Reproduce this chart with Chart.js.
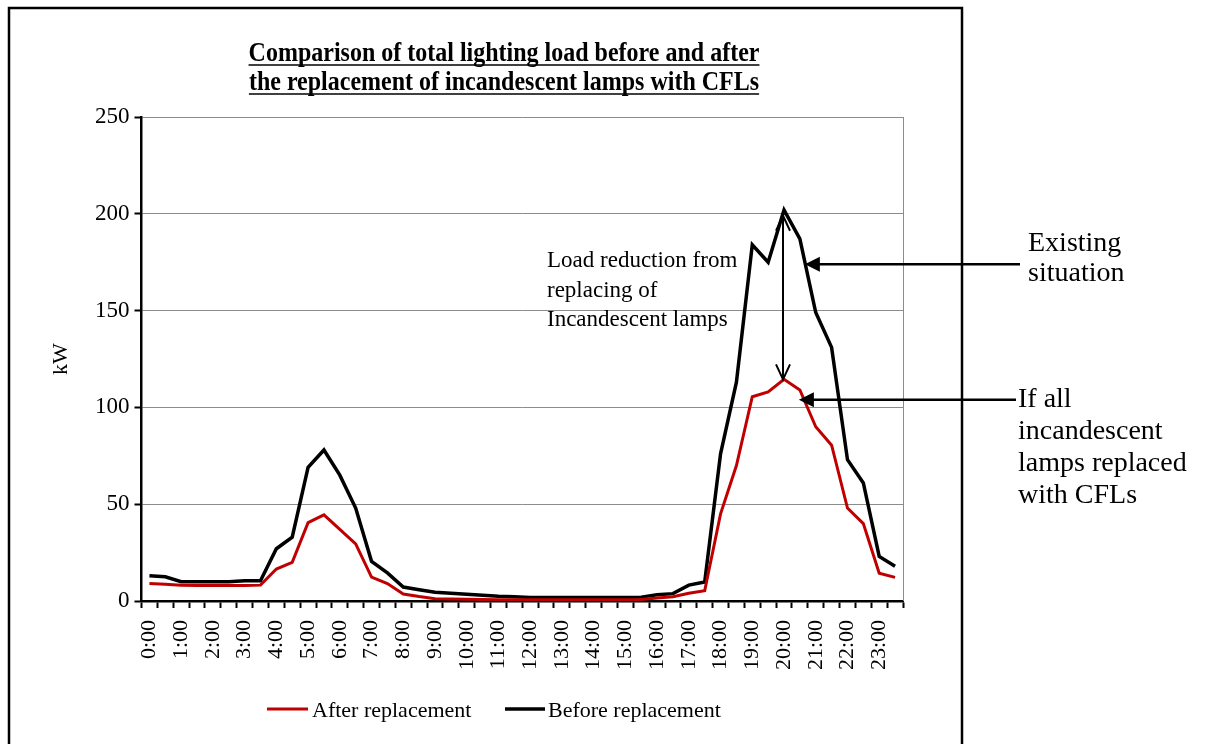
<!DOCTYPE html>
<html>
<head>
<meta charset="utf-8">
<title>Lighting load before and after CFL replacement</title>
<script src="https://cdn.jsdelivr.net/npm/chart.js@4/dist/chart.umd.min.js"></script>
<style>
  html, body { margin: 0; padding: 0; background: #fff; }
  #wrap { width: 1210px; height: 744px; }
</style>
</head>
<body>
<div id="wrap"><canvas id="loadChart" width="1210" height="744"></canvas></div>
<script>
'use strict';

// half-hourly time slots, only full hours get a label
const TIMES = [];
for (let h = 0; h < 24; h++) { TIMES.push(h + ':00', h + ':30'); }

// kW
const BEFORE = [
  13, 12.5, 10, 10, 10, 10, 10.5, 10.5, 27, 33, 69, 78,
  65, 48, 20.5, 14.5, 7.2, 5.8, 4.5, 4, 3.5, 3, 2.5, 2.2,
  1.8, 1.8, 1.8, 1.8, 1.8, 1.8, 1.8, 2, 3.2, 3.8, 8.2, 9.8,
  76, 113, 184, 175, 202, 187, 149, 131, 73, 61, 23, 18
];
const AFTER = [
  9, 8.6, 8.1, 8, 8, 8, 8, 8.2, 16.5, 20, 40.5, 44.5,
  37, 29.5, 12.3, 9, 3.6, 2.3, 1.2, 1, 0.9, 0.8, 0.7, 0.7,
  0.7, 0.7, 0.7, 0.7, 0.7, 0.7, 0.7, 0.8, 1.5, 2.2, 4, 5.3,
  45, 70, 105.5, 108, 114.5, 109, 90, 80.5, 48, 40, 14.3, 12.2
];
const Y_TICKS = [0, 50, 100, 150, 200, 250];

const TITLE_LINES = [
  'Comparison of total lighting load before and after',
  'the replacement of incandescent lamps with CFLs'
];
const NOTE_MID = ['Load reduction from', 'replacing of', 'Incandescent lamps'];
const NOTE_TOP = ['Existing', 'situation'];
const NOTE_LOW = ['If all', 'incandescent', 'lamps replaced', 'with CFLs'];

const SERIF = "'Liberation Serif', 'Times New Roman', serif";
Chart.defaults.font.family = SERIF;
Chart.defaults.color = '#000';

function arrowFilled(ctx, x1, y, x2) {
  ctx.beginPath();
  ctx.moveTo(x1, y);
  ctx.lineTo(x2 + 14, y);
  ctx.stroke();
  ctx.beginPath();
  ctx.moveTo(x2, y);
  ctx.lineTo(x2 + 15, y - 7.5);
  ctx.lineTo(x2 + 15, y + 7.5);
  ctx.closePath();
  ctx.fill();
}

function openHead(ctx, x, y, dir) {
  ctx.beginPath();
  ctx.moveTo(x - 7, y + dir * 15);
  ctx.lineTo(x, y);
  ctx.lineTo(x + 7, y + dir * 15);
  ctx.stroke();
}

const decorations = {
  id: 'decorations',
  afterDraw(chart) {
    const { ctx, chartArea: a, scales } = chart;
    const xs = scales.x, ys = scales.y;
    ctx.save();

    // outer frame
    ctx.strokeStyle = '#000';
    ctx.lineWidth = 2.5;
    ctx.strokeRect(9, 8, 953, 780);

    // right edge of plot area
    ctx.strokeStyle = '#8c8c8c';
    ctx.lineWidth = 1;
    ctx.beginPath();
    ctx.moveTo(a.right + 0.5, a.top);
    ctx.lineTo(a.right + 0.5, a.bottom);
    ctx.stroke();

    // title, bold + underlined (a bit taller than wide, like the original)
    ctx.fillStyle = '#000';
    ctx.strokeStyle = '#000';
    ctx.font = 'bold 24px ' + SERIF;
    ctx.textAlign = 'center';
    ctx.textBaseline = 'alphabetic';
    TITLE_LINES.forEach((t, i) => {
      const y = 61 + i * 29;
      ctx.save();
      ctx.translate(504, y);
      ctx.scale(1, 1.12);
      ctx.fillText(t, 0, 0);
      ctx.restore();
      const w = ctx.measureText(t).width;
      ctx.lineWidth = 1.6;
      ctx.beginPath();
      ctx.moveTo(504 - w / 2, y + 4);
      ctx.lineTo(504 + w / 2, y + 4);
      ctx.stroke();
    });

    // text beside the evening peak
    ctx.textAlign = 'left';
    ctx.font = '23px ' + SERIF;
    NOTE_MID.forEach((t, i) => ctx.fillText(t, 547, 267 + i * 29.7));

    // double arrow showing the reduction at 20:00
    const peak = 40;
    const ax = xs.getPixelForValue(peak) - 1;
    const yTop = ys.getPixelForValue(BEFORE[peak] - 3);
    const yBot = ys.getPixelForValue(AFTER[peak]);
    ctx.lineWidth = 2;
    ctx.beginPath();
    ctx.moveTo(ax, yTop);
    ctx.lineTo(ax, yBot);
    ctx.stroke();
    openHead(ctx, ax, yTop, 1);
    openHead(ctx, ax, yBot, -1);

    // pointers from the right-hand notes
    ctx.lineWidth = 2.5;
    arrowFilled(ctx, 1020, ys.getPixelForValue(174), xs.getPixelForValue(41) + 5);
    arrowFilled(ctx, 1016, ys.getPixelForValue(104), xs.getPixelForValue(41) - 1);

    ctx.font = '28px ' + SERIF;
    NOTE_TOP.forEach((t, i) => ctx.fillText(t, 1028, 251 + i * 30));
    NOTE_LOW.forEach((t, i) => ctx.fillText(t, 1018, 407 + i * 32));

    // legend
    const items = chart.data.datasets;
    const legendPos = [[267, 308, 312], [505, 545, 548]];
    ctx.font = '22px ' + SERIF;
    items.forEach((ds, i) => {
      const [l1, l2, tx] = legendPos[i];
      ctx.strokeStyle = ds.borderColor;
      ctx.lineWidth = ds.borderWidth;
      ctx.beginPath();
      ctx.moveTo(l1, 709);
      ctx.lineTo(l2, 709);
      ctx.stroke();
      ctx.fillText(ds.label, tx, 717);
    });

    ctx.restore();
  }
};

new Chart(document.getElementById('loadChart').getContext('2d'), {
  type: 'line',
  data: {
    labels: TIMES,
    datasets: [
      {
        label: 'After replacement',
        data: AFTER,
        borderColor: '#c00000',
        borderWidth: 3,
        pointRadius: 0,
        tension: 0,
        fill: false,
      },
      {
        label: 'Before replacement',
        data: BEFORE,
        borderColor: '#000000',
        borderWidth: 3.5,
        pointRadius: 0,
        tension: 0,
        fill: false,
      },
    ],
  },
  options: {
    responsive: false,
    animation: false,
    layout: { padding: { left: 0, right: 307, top: 117, bottom: 0 } },
    plugins: {
      legend: { display: false },
      title: { display: false },
      tooltip: { enabled: false },
    },
    scales: {
      x: {
        offset: true,
        afterFit: s => { s.height = 143; },
        grid: {
          offset: true,
          drawOnChartArea: false,
          drawTicks: true,
          tickLength: 7,
          tickColor: '#000',
          tickWidth: 2,
        },
        border: { color: '#000', width: 2.5 },
        ticks: {
          autoSkip: false,
          minRotation: 90,
          maxRotation: 90,
          padding: 12,
          color: '#000',
          font: { size: 22 },
          callback: (v, i) => (i % 2 === 0 ? TIMES[i] : ''),
        },
      },
      y: {
        min: Y_TICKS[0],
        max: Y_TICKS[Y_TICKS.length - 1],
        afterFit: s => { s.width = 141.5; },
        grid: {
          color: '#8c8c8c',
          lineWidth: 1,
          tickLength: 7,
          tickColor: '#000',
          tickWidth: 2,
        },
        border: { color: '#000', width: 2.5 },
        ticks: {
          stepSize: Y_TICKS[1] - Y_TICKS[0],
          padding: 5,
          color: '#000',
          font: { size: 23 },
        },
        title: { display: true, text: 'kW', color: '#000', font: { size: 22 }, padding: { top: 48, bottom: 0 } },
      },
    },
  },
  plugins: [decorations],
});
</script>
</body>
</html>
